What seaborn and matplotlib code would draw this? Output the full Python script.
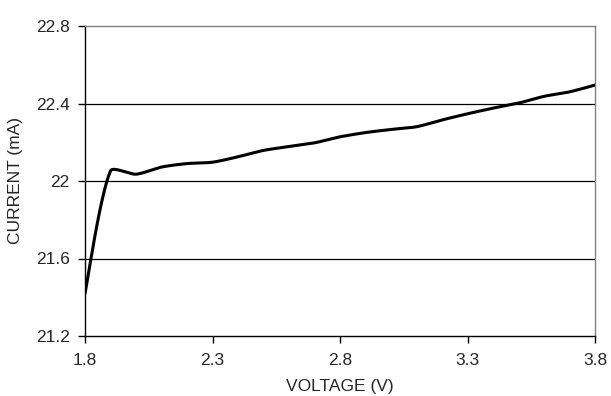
import numpy as np
import pandas as pd
import matplotlib
matplotlib.use("Agg")
import matplotlib.pyplot as plt
import seaborn as sns

voltage = [1.8, 1.9, 2.0, 2.1, 2.2, 2.3, 2.4, 2.5, 2.6, 2.7, 2.8,
           2.9, 3.0, 3.1, 3.2, 3.3, 3.4, 3.5, 3.6, 3.7, 3.8]
current = [21.42, 22.052, 22.035, 22.072, 22.09, 22.097, 22.125, 22.158, 22.178, 22.197, 22.228,
           22.25, 22.266, 22.28, 22.315, 22.347, 22.376, 22.402, 22.437, 22.46, 22.495]
x_ticks = [1.8, 2.3, 2.8, 3.3, 3.8]
y_ticks = [21.2, 21.6, 22.0, 22.4, 22.8]
y_tick_labels = ["21.2", "21.6", "22", "22.4", "22.8"]

# axes extent in pixels (used for screen-space smoothing like Excel)
AX_W, AX_H = 510, 310


def smooth_curve(xs, ys, sx, sy, k=0.25, n=40):
    """Excel-style smoothed line rendering: Bezier segments through the points,
    tangents scaled by screen-space segment lengths."""
    X = np.asarray(xs, float) * sx
    Y = np.asarray(ys, float) * sy
    m = len(X)
    px, py = [], []
    for i in range(m - 1):
        i0, i3 = max(i - 1, 0), min(i + 2, m - 1)
        P0 = np.array([X[i0], Y[i0]]); P1 = np.array([X[i], Y[i]])
        P2 = np.array([X[i + 1], Y[i + 1]]); P3 = np.array([X[i3], Y[i3]])
        d01 = np.linalg.norm(P1 - P0); d12 = np.linalg.norm(P2 - P1); d23 = np.linalg.norm(P3 - P2)
        f1 = d12 / (d01 + d12) * k if d01 > 0 else k / 2
        f2 = d12 / (d12 + d23) * k if d23 > 0 else k / 2
        C1 = P1 + (P2 - P0) * f1
        C2 = P2 - (P3 - P1) * f2
        t = np.linspace(0, 1, n, endpoint=(i == m - 2))[:, None]
        B = (1 - t) ** 3 * P1 + 3 * (1 - t) ** 2 * t * C1 + 3 * (1 - t) * t ** 2 * C2 + t ** 3 * P2
        px.extend(B[:, 0] / sx)
        py.extend(B[:, 1] / sy)
    return np.array(px), np.array(py)


sns.set_style("white")
plt.rcParams["font.family"] = ["Liberation Sans", "DejaVu Sans"]

fig = plt.figure(figsize=(6.11, 3.96), dpi=100)
ax = fig.add_axes([85 / 611, 1 - 336 / 396, AX_W / 611, AX_H / 396])

xr = x_ticks[-1] - x_ticks[0]
yr = y_ticks[-1] - y_ticks[0]
sx_, sy_ = smooth_curve(voltage, current, AX_W / xr, AX_H / yr)
df = pd.DataFrame({"VOLTAGE (V)": sx_, "CURRENT (mA)": sy_})
sns.lineplot(data=df, x="VOLTAGE (V)", y="CURRENT (mA)", sort=False,
             color="black", linewidth=2.2, ax=ax, zorder=3)

ax.set_xlim(x_ticks[0], x_ticks[-1])
ax.set_ylim(y_ticks[0], y_ticks[-1])
ax.set_xticks(x_ticks)
ax.set_xticklabels([f"{v:.1f}" for v in x_ticks])
ax.set_yticks(y_ticks)
ax.set_yticklabels(y_tick_labels)

for yv in y_ticks[1:-1]:
    ax.axhline(yv, color="black", linewidth=0.9, zorder=1)

for s in ["top", "right"]:
    ax.spines[s].set_color("#808080")
    ax.spines[s].set_linewidth(1.0)
for s in ["left", "bottom"]:
    ax.spines[s].set_color("black")
    ax.spines[s].set_linewidth(1.0)

ax.tick_params(axis="both", direction="out", length=5, width=1, color="black",
               labelsize=12.5, left=True, bottom=True)
ax.tick_params(axis="y", pad=6)
ax.tick_params(axis="x", pad=7)
ax.set_xlabel("VOLTAGE (V)", fontsize=12.5, labelpad=8)
ax.set_ylabel("CURRENT (mA)", fontsize=12.5, labelpad=9)

fig.savefig("out.png", dpi=100, facecolor="white")
